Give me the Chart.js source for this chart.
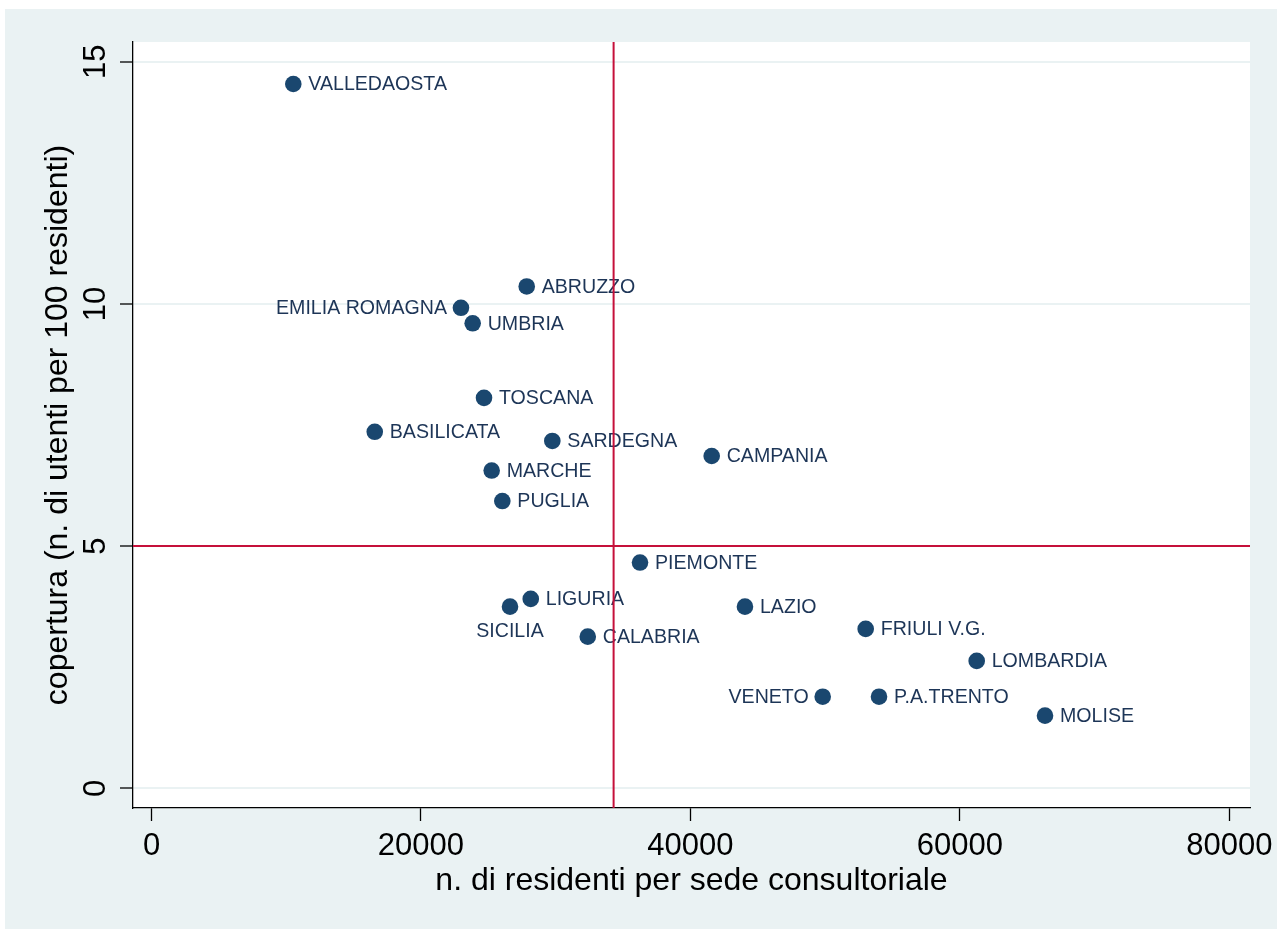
<!DOCTYPE html>
<html>
<head>
<meta charset="utf-8">
<script src="https://cdn.jsdelivr.net/npm/chart.js@4/dist/chart.umd.min.js"></script>
<style>
  html, body { margin: 0; padding: 0; background: #ffffff; }
  #wrap { width: 1277px; height: 930px; }
</style>
</head>
<body>
<div id="wrap"><canvas id="c" width="1277" height="930"></canvas></div>
<script>
// Regions: residents per counselling site vs. coverage (users per 100 residents)
const regions = [
  'VALLEDAOSTA', 'ABRUZZO', 'EMILIA ROMAGNA', 'UMBRIA', 'TOSCANA', 'BASILICATA',
  'SARDEGNA', 'CAMPANIA', 'MARCHE', 'PUGLIA', 'PIEMONTE', 'LIGURIA', 'SICILIA',
  'CALABRIA', 'LAZIO', 'FRIULI V.G.', 'LOMBARDIA', 'VENETO', 'P.A.TRENTO', 'MOLISE'
];
const residentsPerSite = [
  10525, 27850, 22970, 23840, 24680, 16570,
  29750, 41580, 25250, 26040, 36260, 28150, 26610,
  32380, 44050, 53010, 61250, 49820, 54000, 66320
];
const coverage = [
  14.54, 10.36, 9.92, 9.60, 8.06, 7.36,
  7.17, 6.86, 6.56, 5.93, 4.66, 3.91, 3.75,
  3.13, 3.75, 3.29, 2.63, 1.89, 1.89, 1.50
];
const xTickValues = [0, 20000, 40000, 60000, 80000];
const yTickValues = [0, 5, 10, 15];
const meanResidents = 34300;
const meanCoverage = 5;

// axis ranges (a little room either side of the tick range)
const xMin = -1373, xMax = 81536;
const yMin = -0.407, yMax = 15.407;

const FONT = '"Liberation Sans", Arial, Helvetica, sans-serif';
const BG = '#EAF2F3';
const NAVY = '#1A476F';
const LABEL = '#1d3557';
const RED = '#C5103A';

const labelsLeft = new Set(['EMILIA ROMAGNA', 'VENETO']);
const labelsBelow = new Set(['SICILIA']);

const points = regions.map((r, i) => ({ x: residentsPerSite[i], y: coverage[i] }));

const backgroundPlugin = {
  id: 'stataBackground',
  beforeDraw(chart) {
    const { ctx, chartArea } = chart;
    ctx.save();
    ctx.fillStyle = '#ffffff';
    ctx.fillRect(0, 0, chart.width, chart.height);
    ctx.fillStyle = BG;
    ctx.fillRect(5, 9, chart.width - 5, chart.height - 10);
    ctx.fillStyle = '#ffffff';
    ctx.fillRect(chartArea.left, chartArea.top,
                 chartArea.right - chartArea.left, chartArea.bottom - chartArea.top);
    ctx.restore();
  }
};

const pointLabelPlugin = {
  id: 'pointLabels',
  afterDatasetDraw(chart, args) {
    if (args.index !== 0) return;
    const { ctx } = chart;
    const meta = chart.getDatasetMeta(0);
    ctx.save();
    ctx.font = '19.6px ' + FONT;
    ctx.fillStyle = LABEL;
    ctx.textBaseline = 'middle';
    meta.data.forEach((el, i) => {
      const name = regions[i];
      if (labelsLeft.has(name)) {
        ctx.textAlign = 'right';
        ctx.fillText(name, el.x - 14, el.y + 1);
      } else if (labelsBelow.has(name)) {
        ctx.textAlign = 'center';
        ctx.fillText(name, el.x, el.y + 25);
      } else {
        ctx.textAlign = 'left';
        ctx.fillText(name, el.x + 15, el.y + 1);
      }
    });
    ctx.restore();
  }
};

// vertical tick labels on the y axis
const yTickLabelPlugin = {
  id: 'yTickLabels',
  afterDraw(chart) {
    const { ctx } = chart;
    const ys = chart.scales.y;
    ctx.save();
    ctx.font = '31px ' + FONT;
    ctx.fillStyle = '#000000';
    ctx.textAlign = 'center';
    ctx.textBaseline = 'alphabetic';
    ys.ticks.forEach(t => {
      const py = ys.getPixelForValue(t.value);
      ctx.save();
      ctx.translate(ys.right - 28, py);
      ctx.rotate(-Math.PI / 2);
      ctx.fillText(String(t.value), 0, 0);
      ctx.restore();
    });
    ctx.restore();
  }
};

new Chart(document.getElementById('c'), {
  data: {
    datasets: [
      {
        type: 'scatter',
        data: points,
        order: 2,
        pointRadius: 8.3,
        pointBorderWidth: 0,
        pointBackgroundColor: NAVY,
        pointBorderColor: NAVY,
        pointHoverRadius: 8.3
      },
      {
        type: 'line',
        data: [{ x: meanResidents, y: yMin }, { x: meanResidents, y: yMax }],
        order: 1,
        borderColor: RED,
        borderWidth: 2,
        pointRadius: 0,
        fill: false
      },
      {
        type: 'line',
        data: [{ x: xMin, y: meanCoverage }, { x: xMax, y: meanCoverage }],
        order: 1,
        borderColor: RED,
        borderWidth: 2,
        pointRadius: 0,
        fill: false
      }
    ]
  },
  options: {
    responsive: false,
    animation: false,
    devicePixelRatio: 1,
    events: [],
    layout: { padding: { top: 42, right: 27, left: 0, bottom: 0 } },
    plugins: {
      legend: { display: false },
      tooltip: { enabled: false }
    },
    scales: {
      x: {
        type: 'linear',
        position: 'bottom',
        min: xMin,
        max: xMax,
        afterBuildTicks: s => { s.ticks = xTickValues.map(v => ({ value: v })); },
        afterFit: s => { s.height = 122; s.paddingLeft = 0; s.paddingRight = 0; },
        ticks: {
          font: { family: FONT, size: 31, lineHeight: 1 },
          color: '#000000',
          padding: 9.5,
          maxRotation: 0,
          minRotation: 0,
          autoSkip: false,
          callback: v => String(v)
        },
        grid: {
          drawOnChartArea: false,
          drawTicks: true,
          tickLength: 13,
          tickColor: '#000000',
          tickWidth: 1.3
        },
        border: { display: true, color: '#000000', width: 1.3 },
        title: {
          display: true,
          text: 'n. di residenti per sede consultoriale',
          color: '#000000',
          font: { family: FONT, size: 32, lineHeight: 1 },
          padding: { top: 0, bottom: 33 }
        }
      },
      y: {
        type: 'linear',
        position: 'left',
        min: yMin,
        max: yMax,
        afterBuildTicks: s => { s.ticks = yTickValues.map(v => ({ value: v })); },
        afterFit: s => { s.width = 133; s.paddingTop = 0; s.paddingBottom = 0; },
        ticks: { display: false },
        grid: {
          color: BG,
          lineWidth: 2,
          drawTicks: true,
          tickLength: 13,
          tickColor: '#000000',
          tickWidth: 1.3
        },
        border: { display: true, color: '#000000', width: 1.3 },
        title: {
          display: true,
          text: 'copertura (n. di utenti per 100 residenti)',
          color: '#000000',
          font: { family: FONT, size: 32, lineHeight: 1 },
          padding: { top: 42, bottom: 0 }
        }
      }
    }
  },
  plugins: [backgroundPlugin, pointLabelPlugin, yTickLabelPlugin]
});
</script>
</body>
</html>
